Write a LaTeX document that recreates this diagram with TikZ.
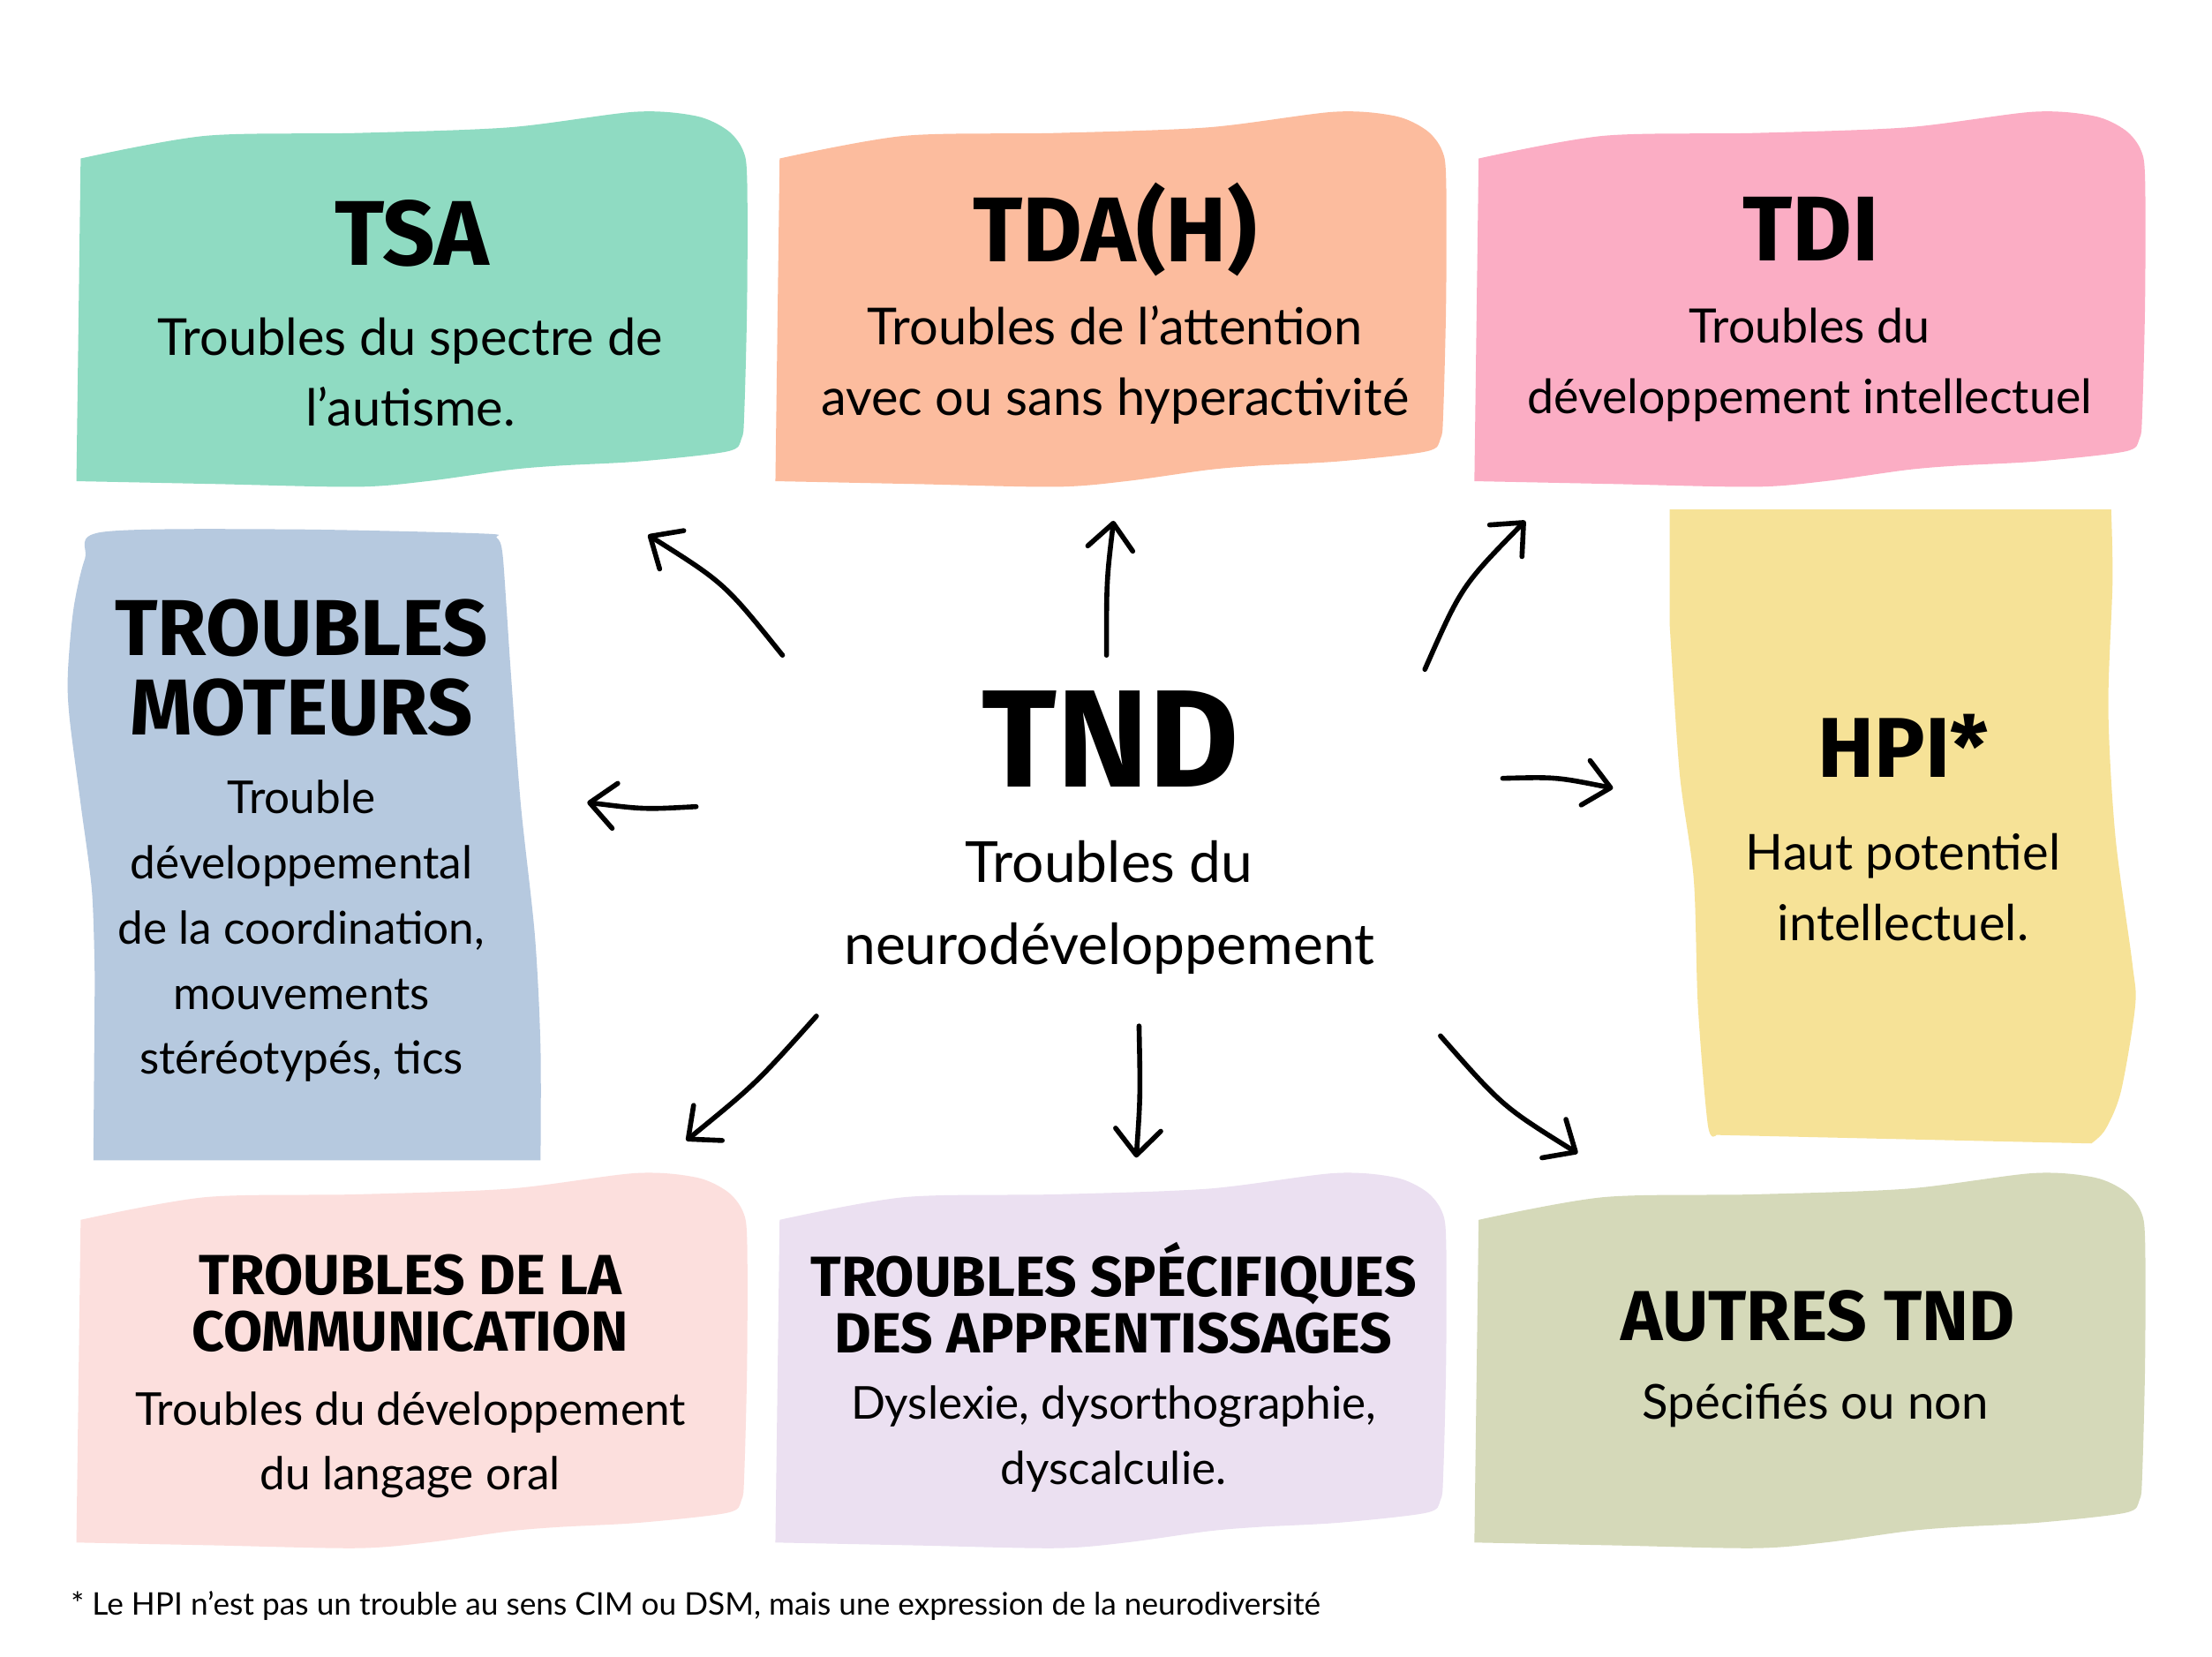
\documentclass[tikz,border=0pt]{standalone}
\usepackage{fontspec}
\setmainfont{Lato}
\newfontfamily\titrefont{Fira Sans}
\usetikzlibrary{arrows.meta}

\definecolor{vert}{HTML}{8FDBC2}
\definecolor{peche}{HTML}{FCBC9E}
\definecolor{rose}{HTML}{FBADC4}
\definecolor{bleu}{HTML}{B6C9DF}
\definecolor{jaune}{HTML}{F6E297}
\definecolor{rosepale}{HTML}{FCDFDD}
\definecolor{lavande}{HTML}{EBE0F1}
\definecolor{sauge}{HTML}{D5D9B9}

\tikzset{
    titre/.style={font=\titrefont\bfseries\fontsize{#1}{#1}\selectfont, inner sep=0pt, align=center},
    texte/.style 2 args={font=\fontsize{#1}{#2}\selectfont, inner sep=0pt, align=center},
    fleche/.style={line width=3.5pt, line cap=round, -{Straight Barb[length=18pt,width=32pt,round]}}
}

% boite en forme de drapeau, coin haut gauche en (#1,#2)
\newcommand{\drapeau}[3]{%
    \begin{scope}[shift={(#1,#2)}]
        \fill[#3] plot[smooth, tension=0.5] coordinates {(5,0) (93,-16) (200,-18) (308,-22) (397,-33) (440,-30) (462,-20) (473,-6) (476,15) (476,100) (474,180) (472,198) (462,207) (400,214) (344,217) (308,220) (250,228) (200,232) (100,230) (2,228)} -- cycle;
    \end{scope}}

\begin{document}
\begin{tikzpicture}[x=1pt, y=-1pt]
    \fill[white] (0,0) rectangle (1563.3,1170.3);
    \useasboundingbox (0,0) rectangle (1563.3,1170.3);
    % boites du haut et du bas
    \drapeau{52}{112}{vert}
    \drapeau{546}{112}{peche}
    \drapeau{1040}{112}{rose}
    \drapeau{52}{862}{rosepale}
    \drapeau{546}{862}{lavande}
    \drapeau{1040}{862}{sauge}
    % boite de gauche
    \fill[bleu] (66,820) -- plot[smooth, tension=0.5] coordinates {(67,692) (65,630) (57,568) (49,506) (48,475) (52,430) (60,395) (72,376) (200,374) (340,377) (351,380) (355,390) (358,430) (361,475) (368,568) (378,661) (382,740) (382,820)} -- cycle;
    % boite de droite
    \fill[jaune] (1180,360) -- plot[smooth, tension=0.5] coordinates {(1492,360) (1493,411) (1490,501) (1495,591) (1507,681) (1509,711) (1499,771) (1488,798) (1478,808)} -- plot[smooth, tension=0.5] coordinates {(1213,802) (1207,795) (1200,711) (1197,621) (1187,546) (1180,441)} -- cycle;

    \node[titre=65] (tsa) at (291,165) {TSA};
    \node[texte={36}{50}] (tsadef) at (290,263) {Troubles du spectre de\\l’autisme.};
    \node[titre=65] (tdah) at (788,162) {TDA(H)};
    \node[texte={36}{50}] (tdahdef) at (788,258) {Troubles de l’attention\\avec ou sans hyperactivité};
    \node[titre=65] (tdi) at (1280,162) {TDI};
    \node[texte={33.5}{50}] (tdidef) at (1279,258) {Troubles du\\développement intellectuel};

    \node[titre=56] (moteurs) at (213,472) {TROUBLES\\MOTEURS};
    \node[texte={32}{46}] (moteursdef) at (213,658) {Trouble\\développemental\\de la coordination,\\mouvements\\stéréotypés, tics};
    \node[titre=98] (tnd) at (785,522) {TND};
    \node[texte={40}{58}] (tnddef) at (784,641) {Troubles du\\neurodéveloppement};
    \node[titre=60] (hpi) at (1345,527) {HPI*};
    \node[texte={35}{50}] (hpidef) at (1345,627) {Haut potentiel\\intellectuel.};

    \node[titre=40] (comm) at (290,921) {TROUBLES DE LA\\COMMUNICATION};
    \node[texte={32}{46}] (commdef) at (290,1021) {Troubles du développement\\du langage oral};
    \node[titre=40] (tsap) at (787,917) {TROUBLES SPÉCIFIQUES\\DES APPRENTISSAGES};
    \node[texte={32}{46}] (tsapdef) at (787,1017) {Dyslexie, dysorthographie,\\dyscalculie.};
    \node[titre=50] (autres) at (1285,930) {AUTRES TND};
    \node[texte={34}{46}] (autresdef) at (1283,993) {Spécifiés ou non};

    \node[texte={22}{22}, anchor=west] (note) at (50,1135) {* Le HPI n’est pas un trouble au sens CIM ou DSM, mais une expression de la neurodiversité};

    % fleches depuis le centre
    \coordinate (a-tsa) at (553,463);      \coordinate (b-tsa) at (458,378);
    \coordinate (a-tdah) at (782,463);     \coordinate (b-tdah) at (787,368);
    \coordinate (a-tdi) at (1007,473);     \coordinate (b-tdi) at (1078,368);
    \coordinate (a-moteurs) at (492,570);  \coordinate (b-moteurs) at (415,567);
    \coordinate (a-hpi) at (1062,550);     \coordinate (b-hpi) at (1140,557);
    \coordinate (a-comm) at (577,718);     \coordinate (b-comm) at (485,806);
    \coordinate (a-tsap) at (805,725);     \coordinate (b-tsap) at (803,818);
    \coordinate (a-autres) at (1018,732);  \coordinate (b-autres) at (1115,815);
    \draw[fleche] (a-tsa) .. controls (512,412) .. (b-tsa);
    \draw[fleche] (a-tdah) .. controls (782,410) .. (b-tdah);
    \draw[fleche] (a-tdi) .. controls (1033,414) .. (b-tdi);
    \draw[fleche] (a-moteurs) .. controls (455,572) .. (b-moteurs);
    \draw[fleche] (a-hpi) .. controls (1100,549) .. (b-hpi);
    \draw[fleche] (a-comm) .. controls (534,766) .. (b-comm);
    \draw[fleche] (a-tsap) .. controls (806,775) .. (b-tsap);
    \draw[fleche] (a-autres) .. controls (1062,782) .. (b-autres);
\end{tikzpicture}
\end{document}
